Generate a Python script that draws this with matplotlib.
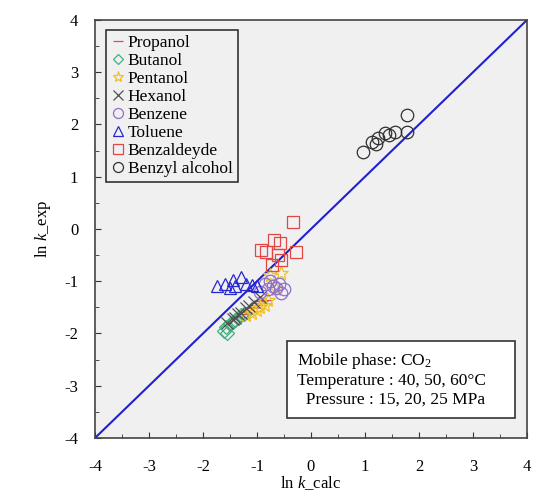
import matplotlib
matplotlib.use('Agg')
import matplotlib.pyplot as plt
from matplotlib.patches import Rectangle

plt.rcParams['font.family'] = ['Liberation Serif', 'DejaVu Serif']
plt.rcParams['mathtext.fontset'] = 'custom'
plt.rcParams['mathtext.rm'] = 'Liberation Serif'
plt.rcParams['mathtext.it'] = 'Liberation Serif:italic'
plt.rcParams['axes.unicode_minus'] = False

# ln k_calc / ln k_exp for each solute
propanol_x = [-1.35, -1.25, -1.2, -1.1, -1.05, -1.0, -0.95, -0.9, -0.85]
propanol_y = [-1.68, -1.62, -1.58, -1.52, -1.5, -1.45, -1.42, -1.38, -1.35]
butanol_x = [-1.62, -1.58, -1.55, -1.5, -1.45, -1.4, -1.35, -1.3, -1.25]
butanol_y = [-1.95, -1.88, -2.0, -1.82, -1.78, -1.75, -1.7, -1.65, -1.62]
pentanol_x = [-1.2, -1.1, -1.0, -0.95, -0.85, -0.8, -0.75, -0.65, -0.55]
pentanol_y = [-1.65, -1.6, -1.55, -1.5, -1.45, -1.35, -0.88, -1.15, -0.84]
hexanol_x = [-1.55, -1.45, -1.4, -1.35, -1.3, -1.2, -1.15, -1.05, -0.95]
hexanol_y = [-1.8, -1.72, -1.7, -1.62, -1.6, -1.52, -1.48, -1.4, -1.3]
benzene_x = [-0.95, -0.85, -0.8, -0.75, -0.7, -0.65, -0.6, -0.55, -0.5]
benzene_y = [-1.2, -1.05, -1.15, -1.0, -1.1, -1.12, -1.05, -1.22, -1.15]
toluene_x = [-1.75, -1.6, -1.5, -1.45, -1.4, -1.3, -1.2, -1.1, -1.0]
toluene_y = [-1.1, -1.05, -1.12, -0.98, -1.1, -0.92, -1.05, -1.08, -1.1]
benzald_x = [-0.92, -0.84, -0.68, -0.62, -0.58, -0.55, -0.28, -0.33, -0.72]
benzald_y = [-0.4, -0.44, -0.21, -0.5, -0.27, -0.6, -0.44, 0.14, -0.69]
benzyl_x = [0.96, 1.13, 1.2, 1.24, 1.37, 1.45, 1.78, 1.78, 1.55]
benzyl_y = [1.47, 1.67, 1.62, 1.74, 1.84, 1.8, 2.18, 1.86, 1.85]

series = [
    ('Propanol', propanol_x, propanol_y, '_', '#e05050'),
    ('Butanol', butanol_x, butanol_y, 'D', '#40b080'),
    ('Pentanol', pentanol_x, pentanol_y, '*', '#f0c020'),
    ('Hexanol', hexanol_x, hexanol_y, 'x', '#505050'),
    ('Benzene', benzene_x, benzene_y, 'o', '#9070c8'),
    ('Toluene', toluene_x, toluene_y, '^', '#2828d0'),
    ('Benzaldeyde', benzald_x, benzald_y, 's', '#e04848'),
    ('Benzyl alcohol', benzyl_x, benzyl_y, 'o', '#303030'),
]

fig = plt.figure(figsize=(5.35, 4.95), dpi=100)
ax = fig.add_axes([0.1776, 0.1152, 0.8074, 0.8444])
ax.set_facecolor('#f0f0f0')

ax.plot([-4, 4], [-4, 4], color='#2020d0', lw=1.5, zorder=1)

for name, xs, ys, m, c in series:
    ms = 9
    if m == 'D':
        ms = 7
    elif m == '*':
        ms = 10
    ax.plot(xs, ys, ls='none', marker=m, ms=ms, mfc='none', mec=c,
            mew=0.9, label=name, zorder=2)

ax.set_xlim(-4, 4)
ax.set_ylim(-4, 4)
ax.set_xticks(range(-4, 5))
ax.set_yticks(range(-4, 5))
ax.set_xticks([i + 0.5 for i in range(-4, 4)], minor=True)
ax.set_yticks([i + 0.5 for i in range(-4, 4)], minor=True)
ax.tick_params(direction='in', length=4, labelsize=12, color='#333333')
ax.tick_params(which='minor', direction='in', length=3, color='#333333')
ax.tick_params(axis='x', pad=15)
ax.tick_params(axis='y', pad=12)
for s in ax.spines.values():
    s.set_color('#444444')
    s.set_linewidth(1.2)

ax.set_xlabel('ln $k$_calc', fontsize=12, labelpad=0)
ax.set_ylabel('ln $k$_exp', fontsize=12, labelpad=8)

leg = ax.legend(loc='upper left', bbox_to_anchor=(0.026, 0.976), fontsize=12.5,
                handlelength=0.7, handletextpad=0.25, labelspacing=0.1,
                borderpad=0.3, borderaxespad=0, fancybox=False, framealpha=1,
                edgecolor='#333333', facecolor='#f0f0f0', markerscale=0.8)
leg.get_frame().set_linewidth(1.2)

# conditions box
ax.add_patch(Rectangle((0.444, 0.048), 0.528, 0.184, transform=ax.transAxes,
                       fc='white', ec='#333333', lw=1.2, zorder=3))
ax.text(0.468, 0.14,
        'Mobile phase: CO$_2$\nTemperature : 40, 50, 60\u00b0C\n  Pressure : 15, 20, 25 MPa',
        transform=ax.transAxes, ha='left', va='center', fontsize=12.5,
        linespacing=1.2, zorder=4)

fig.savefig('out.png', dpi=100)
